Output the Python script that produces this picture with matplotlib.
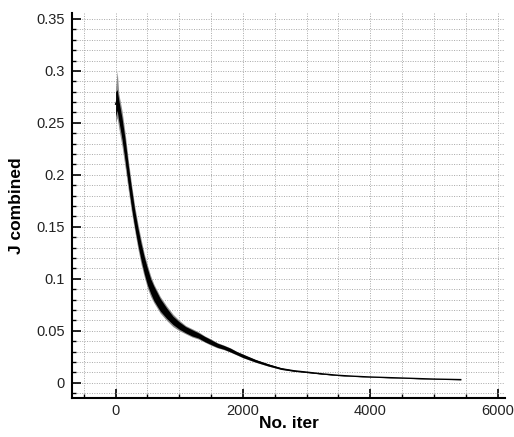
import matplotlib
matplotlib.use("Agg")
import matplotlib.pyplot as plt
from matplotlib.ticker import MultipleLocator, FixedLocator, FuncFormatter

plt.rcParams['font.family'] = ['Liberation Sans', 'DejaVu Sans']

# ---- data ----
iters = [0, 25, 50, 100, 150, 200, 250, 300, 350, 400, 450, 500, 550, 600,
         700, 800, 900, 1000, 1100, 1200, 1300, 1400, 1500, 1600, 1700, 1800,
         1900, 2000, 2200, 2400, 2600, 2800, 3000, 3250, 3500, 3750, 4000,
         4500, 5000, 5420]
j_center = [0.268, 0.272, 0.262, 0.245, 0.224, 0.200, 0.178, 0.158, 0.141,
            0.126, 0.113, 0.102, 0.093, 0.086, 0.075, 0.067, 0.060, 0.055,
            0.051, 0.048, 0.0455, 0.042, 0.039, 0.036, 0.034, 0.0315, 0.0285,
            0.0258, 0.021, 0.017, 0.0135, 0.0115, 0.0102, 0.0085, 0.0071,
            0.0062, 0.0055, 0.0045, 0.0035, 0.003]
# black noise band (upper / lower)
band_hi = [0.280, 0.282, 0.272, 0.255, 0.234, 0.209, 0.187, 0.166, 0.149,
           0.134, 0.121, 0.110, 0.100, 0.093, 0.081, 0.072, 0.064, 0.0585,
           0.054, 0.051, 0.048, 0.0445, 0.0413, 0.038, 0.0358, 0.0333, 0.030,
           0.0274, 0.0222, 0.018, 0.0142, 0.012, 0.0106, 0.0088, 0.0073,
           0.0063, 0.0056, 0.0046, 0.0036, 0.0031]
band_lo = [0.256, 0.262, 0.252, 0.235, 0.214, 0.191, 0.169, 0.150, 0.133,
           0.118, 0.105, 0.094, 0.086, 0.079, 0.069, 0.062, 0.056, 0.0515,
           0.048, 0.045, 0.043, 0.0395, 0.0367, 0.034, 0.0322, 0.0297, 0.027,
           0.0242, 0.0198, 0.016, 0.0128, 0.011, 0.0098, 0.0082, 0.0069,
           0.0061, 0.0054, 0.0044, 0.0034, 0.0029]
# grey outer extent of the noise
gray_hi = [0.284, 0.300, 0.278, 0.262, 0.240, 0.214, 0.191, 0.170, 0.153,
           0.138, 0.124, 0.113, 0.103, 0.095, 0.083, 0.074, 0.066, 0.060,
           0.055, 0.052, 0.049, 0.045, 0.042, 0.0385, 0.0362, 0.0336, 0.0303,
           0.0276, 0.0224, 0.0181, 0.0143, 0.0121, 0.0107, 0.0089, 0.0074,
           0.0064, 0.0057, 0.0047, 0.0037, 0.0032]
gray_lo = [0.250, 0.255, 0.245, 0.228, 0.207, 0.185, 0.164, 0.146, 0.129,
           0.114, 0.102, 0.091, 0.083, 0.077, 0.067, 0.060, 0.054, 0.050,
           0.047, 0.044, 0.042, 0.039, 0.036, 0.0335, 0.0318, 0.0294, 0.0267,
           0.024, 0.0196, 0.0159, 0.0127, 0.0109, 0.0097, 0.0081, 0.0068,
           0.006, 0.0053, 0.0043, 0.0033, 0.0028]

x_major = [0, 2000, 4000, 6000]
y_major = [0, 0.05, 0.1, 0.15, 0.2, 0.25, 0.3, 0.35]
x_label = "No. iter"
y_label = "J combined"

# ---- figure ----
W, H = 514, 437
fig = plt.figure(figsize=(W / 100, H / 100), dpi=100)
left, right, top, bottom = 72.3, 505.0, 12.7, 398.3
ax = fig.add_axes([left / W, 1 - bottom / H, (right - left) / W, (bottom - top) / H])

ax.fill_between(iters, gray_lo, gray_hi, color='#8c8c8c', lw=0, zorder=3)
ax.fill_between(iters, band_lo, band_hi, color='black', lw=0, zorder=4)
ax.plot(iters, j_center, color='black', lw=1.0, zorder=5)

ax.set_xlim(-680, 6115)
ax.set_ylim(-0.015, 0.356)

ax.xaxis.set_major_locator(FixedLocator(x_major))
ax.xaxis.set_minor_locator(MultipleLocator(500))
ax.yaxis.set_major_locator(FixedLocator(y_major))
ax.yaxis.set_minor_locator(MultipleLocator(0.01))
ax.yaxis.set_major_formatter(FuncFormatter(lambda v, p: f"{v:g}"))
ax.xaxis.set_major_formatter(FuncFormatter(lambda v, p: f"{v:g}"))

ax.grid(which='both', color='#a8a8a8', linestyle=(0, (1, 1.5)), linewidth=0.7)
ax.set_axisbelow(True)

for s in ['top', 'right']:
    ax.spines[s].set_visible(False)
for s in ['left', 'bottom']:
    ax.spines[s].set_linewidth(1.5)

ax.tick_params(which='major', direction='in', length=6.5, width=1.2,
               labelsize=10.5, colors='black')
ax.tick_params(which='minor', direction='in', length=3.2, width=1.0)
ax.tick_params(axis='y', which='major', pad=5.5)
ax.tick_params(axis='x', which='major', pad=4)
for lab in ax.get_xticklabels() + ax.get_yticklabels():
    lab.set_color('#222222')

ax.set_xlabel(x_label, fontsize=12.5, fontweight='bold')
ax.set_ylabel(y_label, fontsize=12.5, fontweight='bold')
ax.xaxis.set_label_coords(0.5, -0.047)
ax.yaxis.set_label_coords(-0.112, 0.5)

fig.savefig("out.png", dpi=100)
